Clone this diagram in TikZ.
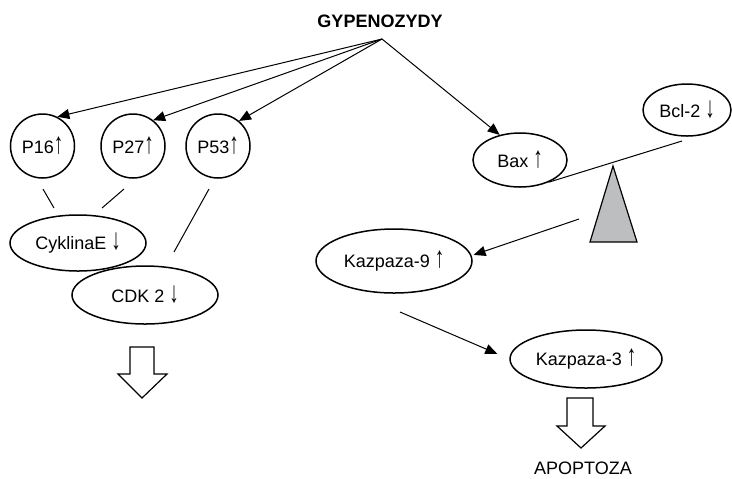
\documentclass[tikz,border=0pt]{standalone}
\usepackage{fontspec}
\usepackage{graphicx}
\setmainfont{Liberation Sans}
\newcommand{\upar}{\scalebox{1.05}[1.65]{\bfseries ↑}}
\newcommand{\dnar}{\scalebox{1.05}[1.65]{\bfseries ↓}}
\usetikzlibrary{arrows.meta,shapes.geometric}
\begin{document}
\begin{tikzpicture}[x=0.5pt,y=-0.5pt,
  every node/.style={font=\fontsize{9pt}{10pt}\selectfont},
  circ/.style={draw,circle,line width=0.75pt,inner sep=0pt,minimum size=32pt},
  ell/.style={draw,ellipse,line width=0.75pt,inner sep=0pt},
  conn/.style={line width=0.5pt},
  arr/.style={line width=0.5pt,-{Triangle[length=6pt,width=5pt]}},
  blockarrow/.style={draw,line width=0.6pt,fill=white,line join=miter}
]
\useasboundingbox (0,0) rectangle (732,478);

% title and source point
\node[font=\fontsize{9pt}{10pt}\selectfont\bfseries] (title) at (380,21) {GYPENOZYDY};
\coordinate (g) at (382,39);

% left group
\node[circ] (p16) at (42.5,146) {P16\upar};
\node[circ] (p27) at (133,146) {P27\upar};
\node[circ] (p53) at (218,146) {P53\upar};
\node[ell,minimum width=68pt,minimum height=28pt] (cyc) at (78,243) {CyklinaE \dnar};
\node[ell,minimum width=73pt,minimum height=29pt] (cdk) at (145,295) {CDK 2 \dnar};

% right group
\node[ell,minimum width=47pt,minimum height=27pt] (bax) at (520,160) {Bax \upar};
\node[ell,minimum width=44pt,minimum height=26pt] (bcl) at (687,110) {Bcl-2 \dnar};
\node[ell,minimum width=78pt,minimum height=32pt] (kaz9) at (394,261) {Kazpaza-9 \upar};
\node[ell,minimum width=76pt,minimum height=29pt] (kaz3) at (586,359) {Kazpaza-3 \upar};
\node (apo) at (583,468) {APOPTOZA};

% arrows from GYPENOZYDY
\draw[arr] (g) -- (p16.63);
\draw[arr] (g) -- (p27.52);
\draw[arr] (g) -- (p53.50);
\draw[arr] (g) -- (bax.129);

% plain connectors with gaps
\coordinate (a1) at (43,189);  \coordinate (a2) at (54,208);
\coordinate (b1) at (124,189); \coordinate (b2) at (102,208);
\coordinate (c1) at (209,189); \coordinate (c2) at (174,252);
\draw[conn] (a1) -- (a2);
\draw[conn] (b1) -- (b2);
\draw[conn] (c1) -- (c2);

% seesaw
\coordinate (s2) at (682,141);
\draw[conn] (bax.-38) -- (s2);
\fill[fill={rgb,255:red,188;green,190;blue,192},draw=black,line width=0.6pt,line join=miter]
  (613,166) -- (637,242) -- (590,242) -- cycle;

% caspase arrows
\coordinate (k9s) at (579,219);
\draw[arr,shorten >=1pt] (k9s) -- (kaz9.4);
\coordinate (k3s) at (400,312);
\draw[arr,shorten >=6.5pt] (k3s) -- (kaz3.west);

% block arrows
\draw[blockarrow] (130,347) -- (154,347) -- (154,374) -- (167,374) -- (142,398)
  -- (118,374) -- (130,374) -- cycle;
\draw[blockarrow] (567,398) -- (593,398) -- (593,426) -- (605,426) -- (581,448)
  -- (557,426) -- (567,426) -- cycle;
\end{tikzpicture}
\end{document}
